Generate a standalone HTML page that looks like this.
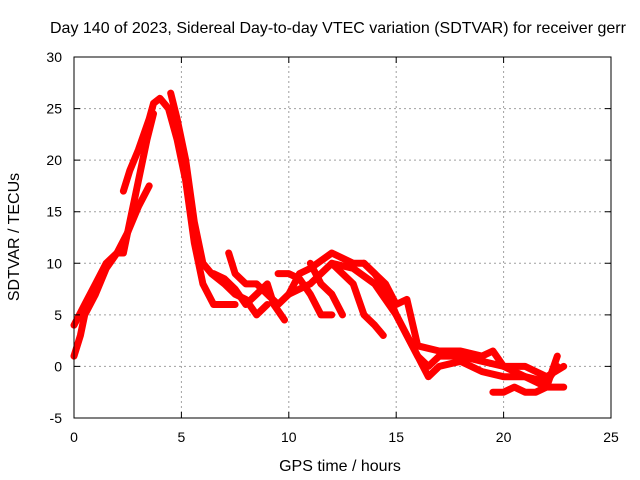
<!DOCTYPE html>
<html><head><meta charset="utf-8"><style>
body{margin:0;background:#fff}
svg{display:block;font-family:"Liberation Sans",Arial,sans-serif}
</style></head><body>
<svg width="640" height="480" viewBox="0 0 640 480">
<rect x="0" y="0" width="640" height="480" fill="#fff"/>
<text x="50" y="33" font-size="16">Day 140 of 2023, Sidereal Day-to-day VTEC variation (SDTVAR) for receiver gerr</text>
<g id="grid"></g>
<g id="series"></g>
<rect x="74" y="57" width="537" height="361" fill="none" stroke="#000" stroke-width="1"/>
<g id="ticks"></g>
<text x="340" y="471" font-size="16" text-anchor="middle">GPS time / hours</text>
<text transform="translate(19,237) rotate(-90)" font-size="16" text-anchor="middle">SDTVAR / TECUs</text>
</svg>
<script>
const xTicks=[0,5,10,15,20,25];
const yTicks=[-5,0,5,10,15,20,25,30];
const trace1=[[0,1],[0.3,3],[0.5,5],[1,7],[1.5,9.5],[2,11],[2.3,11],[2.6,14],[3,18],[3.4,22],[3.7,24.5]];
const trace2=[[0,4],[0.5,6],[1,8],[1.5,10],[2,11],[2.5,13],[3,15.5],[3.5,17.5]];
const trace3=[[2.3,17],[2.6,19],[3,21],[3.5,24],[3.7,25.5],[4,26],[4.2,25.5],[4.4,25],[4.8,22],[5.2,18],[5.6,12],[6,8],[6.5,6],[7,6],[7.5,6]];
const trace4=[[4.5,26.5],[4.8,24],[5.2,20],[5.6,14],[6,10],[6.4,9],[7,8],[7.5,7],[8,6.5],[8.5,5],[9,6]];
const trace5=[[7.2,11],[7.5,9],[8,8],[8.5,8],[9,7],[9.5,6],[10,7],[10.5,9],[11,9.5],[12,11],[13,10],[13.5,10],[14,9],[14.5,7.5],[15,5],[15.5,3],[16,1],[16.5,0],[17,1],[18,1],[19,0.5],[20,0],[21,0],[22,-1],[22.8,0]];
const trace6=[[6.5,9],[7,8.5],[7.5,7.5],[8,6],[8.5,7],[9,8],[9.3,6],[9.8,4.5]];
const trace7=[[9.5,9],[10,9],[10.5,8.5],[11,7],[11.5,5],[12,5]];
const trace8=[[10,7],[11,8],[11.5,9],[12,10],[12.5,9],[13,8],[13.5,5],[14,4],[14.4,3]];
const trace9=[[11,10],[11.5,8],[12,7],[12.5,5]];
const trace10=[[12,10],[13,9.5],[14,8],[15,5],[15.5,3],[16,1],[16.5,-1],[17,0],[18,0.5],[19,-0.5],[20,-1],[21,-1],[22,-1.5],[22.5,0]];
const trace11=[[13.5,10],[14.5,8],[15,6],[15.5,6.5],[16,2],[17,1.5],[18,1.5],[19,1],[19.5,1.5],[20,0],[21,-1],[22,-2],[22.5,1]];
const trace12=[[19.5,-2.5],[20,-2.5],[20.5,-2],[21,-2.5],[21.5,-2.5],[22,-2],[22.5,-2],[22.8,-2]];
const traces=[trace1,trace2,trace3,trace4,trace5,trace6,trace7,trace8,trace9,trace10,trace11,trace12];
const X0=74,X1=611,Y0=418,Y1=57,xmin=0,xmax=25,ymin=-5,ymax=30;
function xs(v){return X0+(v-xmin)/(xmax-xmin)*(X1-X0);}
function ys(v){return Y0-(v-ymin)/(ymax-ymin)*(Y0-Y1);}
const NS="http://www.w3.org/2000/svg";
const grid=document.getElementById('grid'),ticks=document.getElementById('ticks'),ser=document.getElementById('series');
function mk(t,a){const e=document.createElementNS(NS,t);for(const k in a)e.setAttribute(k,a[k]);return e;}
xTicks.forEach(t=>{
  const x=xs(t);
  if(t>xmin&&t<xmax){const g=mk('line',{x1:x,y1:Y0,x2:x,y2:Y1,stroke:'#a0a0a0','stroke-dasharray':'2,3'});
  
  grid.appendChild(g);}
  const tk=mk('path',{d:`M${x},${Y0}v-6M${x},${Y1}v6`,stroke:'#000'});
  
  ticks.appendChild(tk);
  const l=mk('text',{x:x,y:Y0+24,'font-size':14,'text-anchor':'middle'});l.textContent=t;
  
  ticks.appendChild(l);
});
yTicks.forEach(t=>{
  const y=ys(t);
  if(t>ymin&&t<ymax){const g=mk('line',{x1:X0,y1:y,x2:X1,y2:y,stroke:'#a0a0a0','stroke-dasharray':'2,3'});
  
  grid.appendChild(g);}
  const tk=mk('path',{d:`M${X0},${y}h6M${X1},${y}h-6`,stroke:'#000'});
  
  ticks.appendChild(tk);
  const l=mk('text',{x:X0-12,y:y+5,'font-size':14,'text-anchor':'end'});l.textContent=t;
  
  ticks.appendChild(l);
});
traces.forEach((tr,i)=>{
  const d=tr.map((p,j)=>(j?'L':'M')+xs(p[0]).toFixed(1)+','+ys(p[1]).toFixed(1)).join('');
  const p=mk('path',{d:d,fill:'none',stroke:'#ff0000','stroke-width':7,'stroke-linejoin':'round','stroke-linecap':'round'});
  
  
  ser.appendChild(p);
});
</script>
</body></html>
